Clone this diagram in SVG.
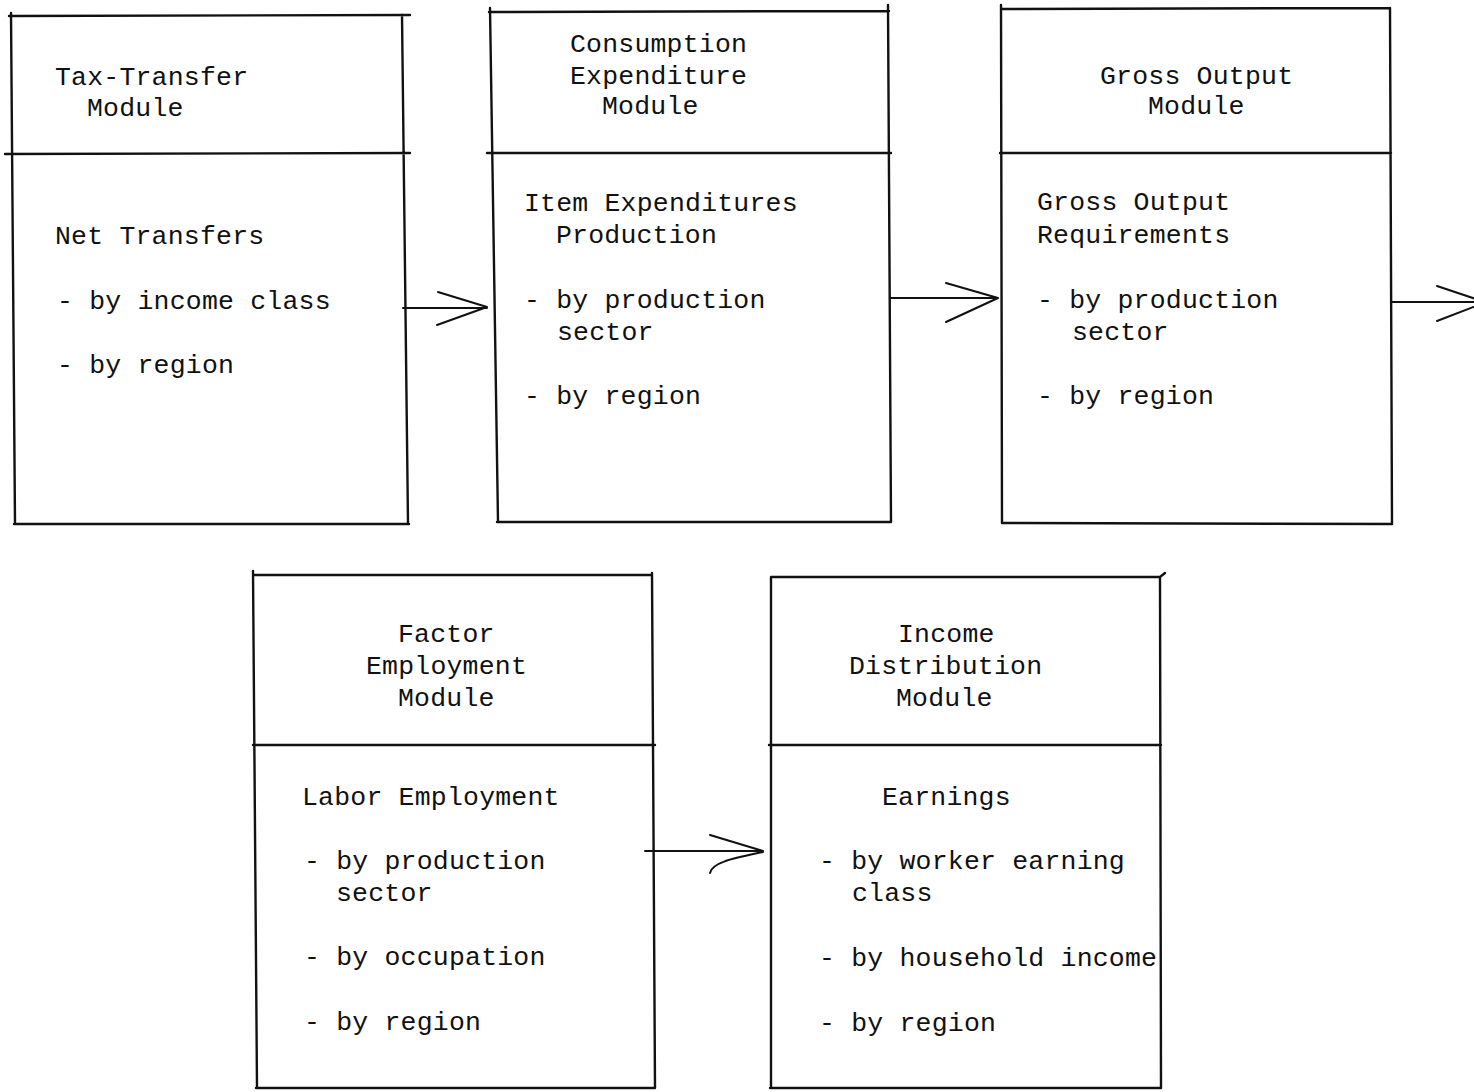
<svg xmlns="http://www.w3.org/2000/svg" width="1474" height="1092" viewBox="0 0 1474 1092">
<style>
.box{fill:none;stroke:#111;stroke-width:2.4;stroke-linecap:round;stroke-linejoin:round}
.con{fill:none;stroke:#111;stroke-width:2;stroke-linecap:round;stroke-linejoin:round}
text{font-family:"Liberation Mono","Courier New",monospace;font-size:26.5px;letter-spacing:0.2px;fill:#111}
</style>
<rect width="1474" height="1092" fill="#fff"/>
<g id="node-tax-transfer">
<path class="box" d="M9,16 L410,15 M11,13 L15,524 M402,15 L408,524 M14,524 L409,524 M5,154 L410,153"/>
<text x="55" y="85">Tax-Transfer</text>
<text x="87" y="116">Module</text>
<text x="55" y="244">Net Transfers</text>
<text x="57" y="309">- by income class</text>
<text x="57" y="373">- by region</text>
</g>
<g id="node-consumption">
<path class="box" d="M489,12 L889,11 M490,8 L498,522 M888,5 L891,522 M497,522 L891,522 M487,153 L891,153"/>
<text x="570" y="52">Consumption</text>
<text x="570" y="84">Expenditure</text>
<text x="602" y="114">Module</text>
<text x="524" y="211">Item Expenditures</text>
<text x="556" y="243">Production</text>
<text x="524" y="308">- by production</text>
<text x="557" y="340">sector</text>
<text x="524" y="404">- by region</text>
</g>
<g id="node-gross-output">
<path class="box" d="M1001,9 L1390,8 M1001,5 L1002,523 M1390,8 L1392,524 M1002,523 L1392,524 M1000,153 L1391,153"/>
<text x="1100" y="84">Gross Output</text>
<text x="1148" y="114">Module</text>
<text x="1037" y="210">Gross Output</text>
<text x="1037" y="243">Requirements</text>
<text x="1037" y="308">- by production</text>
<text x="1072" y="340">sector</text>
<text x="1037" y="404">- by region</text>
</g>
<g id="node-factor-employment">
<path class="box" d="M253,575 L652,575 M253,571 L257,1088 M652,573 L655,1088 M256,1088 L655,1088 M253,745 L655,745"/>
<text x="398" y="642">Factor</text>
<text x="366" y="674">Employment</text>
<text x="398" y="706">Module</text>
<text x="302" y="805">Labor Employment</text>
<text x="304" y="869">- by production</text>
<text x="336" y="901">sector</text>
<text x="304" y="965">- by occupation</text>
<text x="304" y="1030">- by region</text>
</g>
<g id="node-income-distribution">
<path class="box" d="M771,577 L1160,577 L1165,573 M771,577 L771,1088 M1160,578 L1161,1088 M770,1088 L1161,1088 M769,745 L1161,745"/>
<text x="898" y="642">Income</text>
<text x="849" y="674">Distribution</text>
<text x="896" y="706">Module</text>
<text x="882" y="805">Earnings</text>
<text x="819" y="869">- by worker earning</text>
<text x="852" y="901">class</text>
<text x="819" y="966">- by household income</text>
<text x="819" y="1031">- by region</text>
</g>
<g id="connectors">
<path class="con" d="M403,308 L487,308 M438,292 L487,307 L437,325"/>
<path class="con" d="M890,298 L998,298 M946,283 L998,298 L946,322"/>
<path class="con" d="M1391,302 L1474,302 M1437,286 L1476,299 M1437,321 L1476,306"/>
<path class="con" d="M645,851 L763,851 M710,835 L763,851 M763,852 C735,858 712,862 710,873"/>
</g>
</svg>
